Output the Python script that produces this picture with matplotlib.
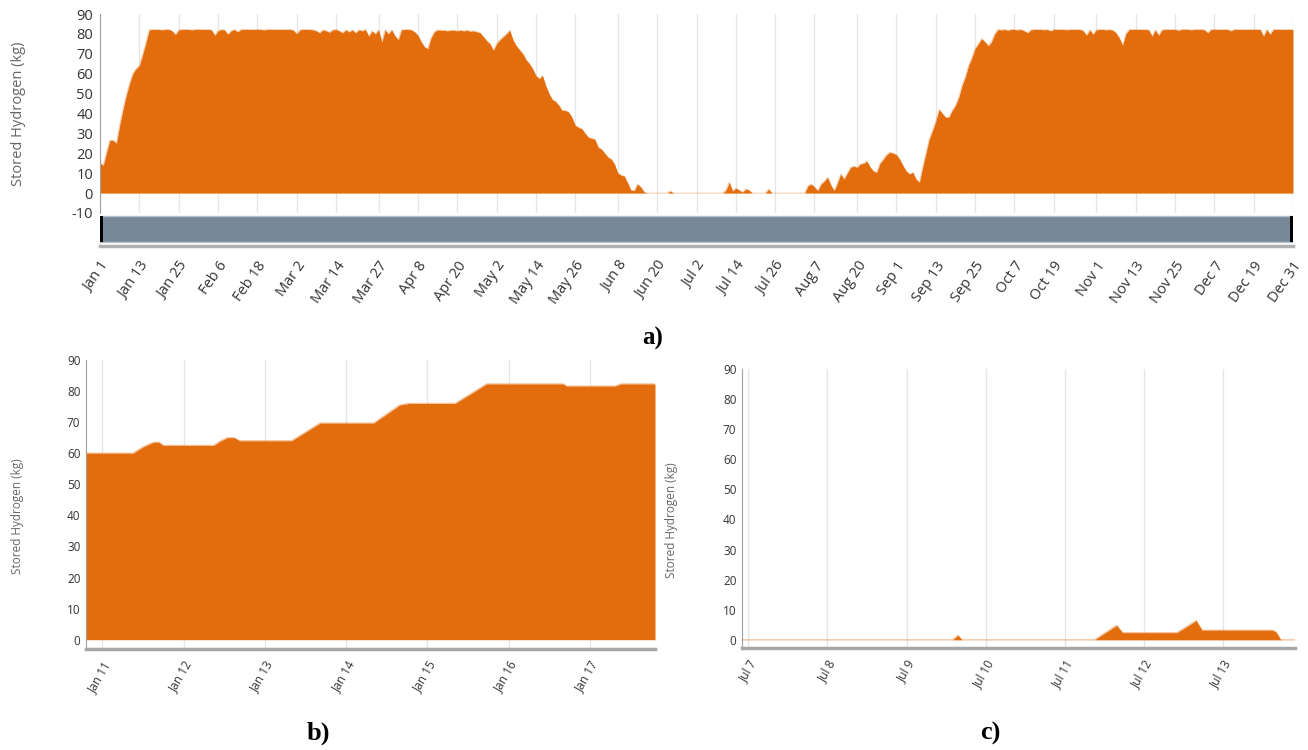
import datetime as dt
import numpy as np
import matplotlib
matplotlib.use("Agg")
import matplotlib.pyplot as plt
from matplotlib.patches import Rectangle

W, H = 1308, 750
ORANGE = "#E36C0C"
GRID = "#E6E6E6"
TXT = "#333333"
LAB = "#666666"

# ---------------- data ----------------
# Panel a: daily stored hydrogen (kg), Jan 1 .. Dec 31
a_jan = [15, 14, 20.5, 26.5, 26.5, 25, 34, 42, 49, 55, 60, 62.5, 64, 69.5, 75.5, 82]
a_winter = [82.2, 82.2, 82.2, 82, 82.2, 82.2, 81.5, 79.6, 82, 82.2,
            82.2, 82.2, 82, 82.2, 82.2, 82.2, 82.2, 82.2, 82, 79.3,
            81.5, 82.2, 82, 79.8, 81.5, 82.2, 81, 82.2, 82.2, 82.2,
            82.2, 82.2, 82.2, 82.2, 82, 82.2, 82.2, 82.2, 82.2, 82.2,
            82.2, 82.2, 82.2, 81.8, 80, 82, 82.2, 82.2, 82.2, 82,
            81.5, 80.5, 82, 81.5, 80.8, 82, 82.2, 81.5, 80.5, 82,
            81, 82, 80.5, 82, 81.5, 82.2, 78.8, 81.5, 80, 82,
            75.9, 82, 80, 82]
a_spring = [79, 77, 82, 82.2, 82.2, 82, 81, 79.3, 76, 73.5,
            72.5, 78, 81, 82, 81.8, 81.8, 81.5, 81.8, 81.8, 81.5,
            81.8, 81.5, 81.8, 81.3, 81.5, 81, 80.5, 78.5, 76.5, 75,
            71.7, 75, 77, 78.5, 80, 81.8, 77, 74, 72, 70,
            67, 65, 62.5, 59, 57.5, 59, 54, 50, 47, 46,
            44, 41.5, 41.5, 40.7, 38, 34, 33, 32.3, 30, 28,
            27.5, 27, 23, 22, 20, 18, 17, 14.5, 10, 9,
            8.5, 5, 1.5, 1.2, 4.5, 3, 0.5]
a_summer = [0, 0, 0, 0, 0, 0, 0, 1, 0, 0,
            0, 0, 0, 0, 0, 0, 0, 0, 0, 0,
            0, 0, 0, 0, 1.5, 5.4, 1, 2.5, 1.5, 0.5,
            2, 1.5, 0, 0, 0, 0, 0, 2, 0, 0,
            0, 0, 0, 0, 0, 0, 0, 0, 0]
a_recharge = [3.7, 4.5, 3, 1.2, 4.5, 6, 7.9, 4, 1.2, 5,
              9.6, 7, 10, 12.9, 13.5, 12.9, 14.6, 15, 16, 13,
              11, 10.4, 15, 17, 19.3, 20.5, 20, 19.3, 17, 13.8,
              11, 9.6, 10.4, 7, 5.4, 12.9, 20, 27, 31.4, 36,
              42, 40, 38.1, 38.1, 41.5, 44, 48, 54, 58.3, 64,
              68, 72.6, 75, 77.6, 76, 74, 76, 80]
a_autumn = [82.2, 82, 82.2, 81.8, 82.2, 82.2, 82, 82.2, 81.5, 80.5,
            82, 82.2, 82.2, 82.2, 82, 82.2, 81.5, 82.2, 82.2, 82.2,
            82.2, 82, 82.2, 82.2, 82.2, 82.2, 81.5, 79.3, 82, 79.8,
            82, 82.2, 82.2, 82, 82.2, 81.8, 80.5, 78, 74.3, 80,
            82.2, 82.2, 82.2, 82.2, 82.2, 82.2, 82, 78.8, 82, 79.3,
            82, 82.2, 82.2, 82.2, 82.2, 81.8, 82.2, 82.2, 82.2, 82,
            82.2, 82.2, 82.2, 82, 80.5, 82.2, 82.2, 82.2, 82.2, 82.2,
            82.2, 81.5, 82.2, 82.2, 82.2, 82.2, 82.2, 82.2, 82.2, 82.2,
            82.2, 78.8, 82.2, 79.8, 82.2, 82.2, 82.2, 82.2, 82.2, 82.2,
            82.2]
a_labels = ['Jan 1', 'Jan 13', 'Jan 25', 'Feb 6', 'Feb 18', 'Mar 2', 'Mar 14',
            'Mar 27', 'Apr 8', 'Apr 20', 'May 2', 'May 14', 'May 26', 'Jun 8',
            'Jun 20', 'Jul 2', 'Jul 14', 'Jul 26', 'Aug 7', 'Aug 20', 'Sep 1',
            'Sep 13', 'Sep 25', 'Oct 7', 'Oct 19', 'Nov 1', 'Nov 13', 'Nov 25',
            'Dec 7', 'Dec 19', 'Dec 31']

# Panel b: Jan 10 19:00 .. Jan 17 19:00 (days since Jan 11 00:00)
b_time = [-0.2, 0.38, 0.50, 0.63, 0.70, 0.75, 1.37, 1.46, 1.54, 1.62, 1.69,
          2.33, 2.68, 3.34, 3.66, 3.77, 4.34, 4.73, 5.67, 5.71, 6.31, 6.38, 6.8]
b_value = [60, 60, 62, 63.5, 63.5, 62.5, 62.5, 64, 65, 65, 64,
           64, 69.7, 69.7, 75.5, 76, 76, 82.3, 82.3, 81.6, 81.6, 82.3, 82.3]
b_labels = ['Jan 11', 'Jan 12', 'Jan 13', 'Jan 14', 'Jan 15', 'Jan 16', 'Jan 17']

# Panel c: days since Jul 7 00:00
c_time = [-0.08, 2.58, 2.65, 2.70, 4.375, 4.655, 4.73, 5.42, 5.66, 5.735,
          6.62, 6.67, 6.73, 6.91]
c_value = [0, 0, 1.5, 0, 0, 4.8, 2.4, 2.4, 6.4, 3.2, 3.2, 2.6, 0, 0]
c_labels = ['Jul 7', 'Jul 8', 'Jul 9', 'Jul 10', 'Jul 11', 'Jul 12', 'Jul 13']

a_values = np.array(a_jan + a_winter + a_spring + a_summer + a_recharge + a_autumn)
a_days = np.arange(len(a_values))
a_ticks = [(dt.datetime.strptime(s + " 2019", "%b %d %Y") - dt.datetime(2019, 1, 1)).days
           for s in a_labels]


def box(l, t, r, b):
    return [l / W, 1 - b / H, (r - l) / W, (b - t) / H]


plt.rcParams['font.family'] = ['Open Sans', 'DejaVu Sans']
plt.rcParams['axes.unicode_minus'] = False
fig = plt.figure(figsize=(W / 100, H / 100), dpi=100)

# ---------------- panel a ----------------
ax = fig.add_axes(box(100, 14, 1293, 213))
ax.set_xlim(0, a_days[-1])
ax.set_ylim(-10, 90)
ax.fill_between(a_days, 0, a_values, color=ORANGE, lw=0, zorder=2)
ax.plot(a_days, a_values, color=ORANGE, alpha=0.3, lw=0.8, zorder=3)
ax.set_xticks(a_ticks)
ax.set_yticks(range(-10, 91, 10))
ax.tick_params(axis='x', length=0, labelbottom=False)
ax.tick_params(axis='y', length=0, labelsize=10.5, labelcolor=TXT, pad=5)
ax.grid(axis='x', color=GRID, lw=1, zorder=0)
ax.set_axisbelow(True)
for s in ['top', 'right', 'bottom']:
    ax.spines[s].set_visible(False)
ax.spines['left'].set_color('#A0A0A0')
ax.set_ylabel('Stored Hydrogen (kg)', color=LAB, fontsize=10.5)
ax.yaxis.set_label_coords((26 - 100) / 1193, 0.5)

# navigator bar
axn = fig.add_axes(box(100, 214, 1293, 246))
axn.set_xlim(0, a_days[-1])
axn.set_ylim(0, 1)
axn.add_patch(Rectangle((0, 0.12), a_days[-1], 0.82, facecolor='#778899',
                        edgecolor='#B8C2CC', lw=1))
axn.add_patch(Rectangle((0, 0.12), 0.9, 0.82, facecolor='black', lw=0))
axn.add_patch(Rectangle((a_days[-1] - 0.9, 0.12), 0.9, 0.82, facecolor='black', lw=0))
for s in ['top', 'right', 'left']:
    axn.spines[s].set_visible(False)
axn.spines['bottom'].set_color('#B0B0B0')
axn.spines['bottom'].set_linewidth(2.5)
axn.set_yticks([])
axn.set_xticks(a_ticks)
axn.set_xticklabels(a_labels, rotation=55, ha='right', rotation_mode='anchor',
                    fontsize=10.5, color=TXT)
axn.tick_params(axis='x', length=0, pad=9)

fig.text(653 / W, 1 - 338 / H, 'a)', ha='center', va='center', fontsize=18,
         fontweight='bold', family=['Liberation Serif', 'DejaVu Serif'])


# ---------------- panels b, c ----------------
def small_panel(rect, t, v, labels, xlim, ylim, lab_x):
    a = fig.add_axes(rect)
    a.set_xlim(*xlim)
    a.set_ylim(*ylim)
    a.fill_between(t, 0, v, color=ORANGE, lw=0, zorder=2)
    a.plot(t, v, color=ORANGE, alpha=0.4, lw=1, zorder=3)
    a.set_xticks(range(len(labels)))
    a.set_xticklabels(labels, rotation=60, ha='right', rotation_mode='anchor',
                      fontsize=8.5, color=TXT)
    a.set_yticks(range(0, 91, 10))
    a.tick_params(axis='x', length=0, pad=7)
    a.tick_params(axis='y', length=0, labelsize=8.5, labelcolor=TXT, pad=4)
    a.grid(axis='x', color=GRID, lw=1, zorder=0)
    a.set_axisbelow(True)
    a.spines['top'].set_visible(False)
    a.spines['right'].set_visible(False)
    a.spines['left'].set_color('#A0A0A0')
    a.spines['bottom'].set_color('#A6A6A6')
    a.spines['bottom'].set_linewidth(2.5)
    a.set_ylabel('Stored Hydrogen (kg)', color=LAB, fontsize=8.5)
    a.yaxis.set_label_coords(lab_x, 0.46)
    return a


small_panel(box(86, 360, 655, 649), b_time, b_value, b_labels,
            (-0.2, 6.8), (-3.0, 90), (24 - 86) / 569)
small_panel(box(742, 369, 1295, 648), c_time, c_value, c_labels,
            (-0.08, 6.91), (-2.7, 90), (678 - 742) / 553)

fig.text(318 / W, 1 - 733 / H, 'b)', ha='center', va='center', fontsize=19,
         fontweight='bold', family=['Liberation Serif', 'DejaVu Serif'])
fig.text(990 / W, 1 - 733 / H, 'c)', ha='center', va='center', fontsize=19,
         fontweight='bold', family=['Liberation Serif', 'DejaVu Serif'])

fig.savefig('out.png', dpi=100)
